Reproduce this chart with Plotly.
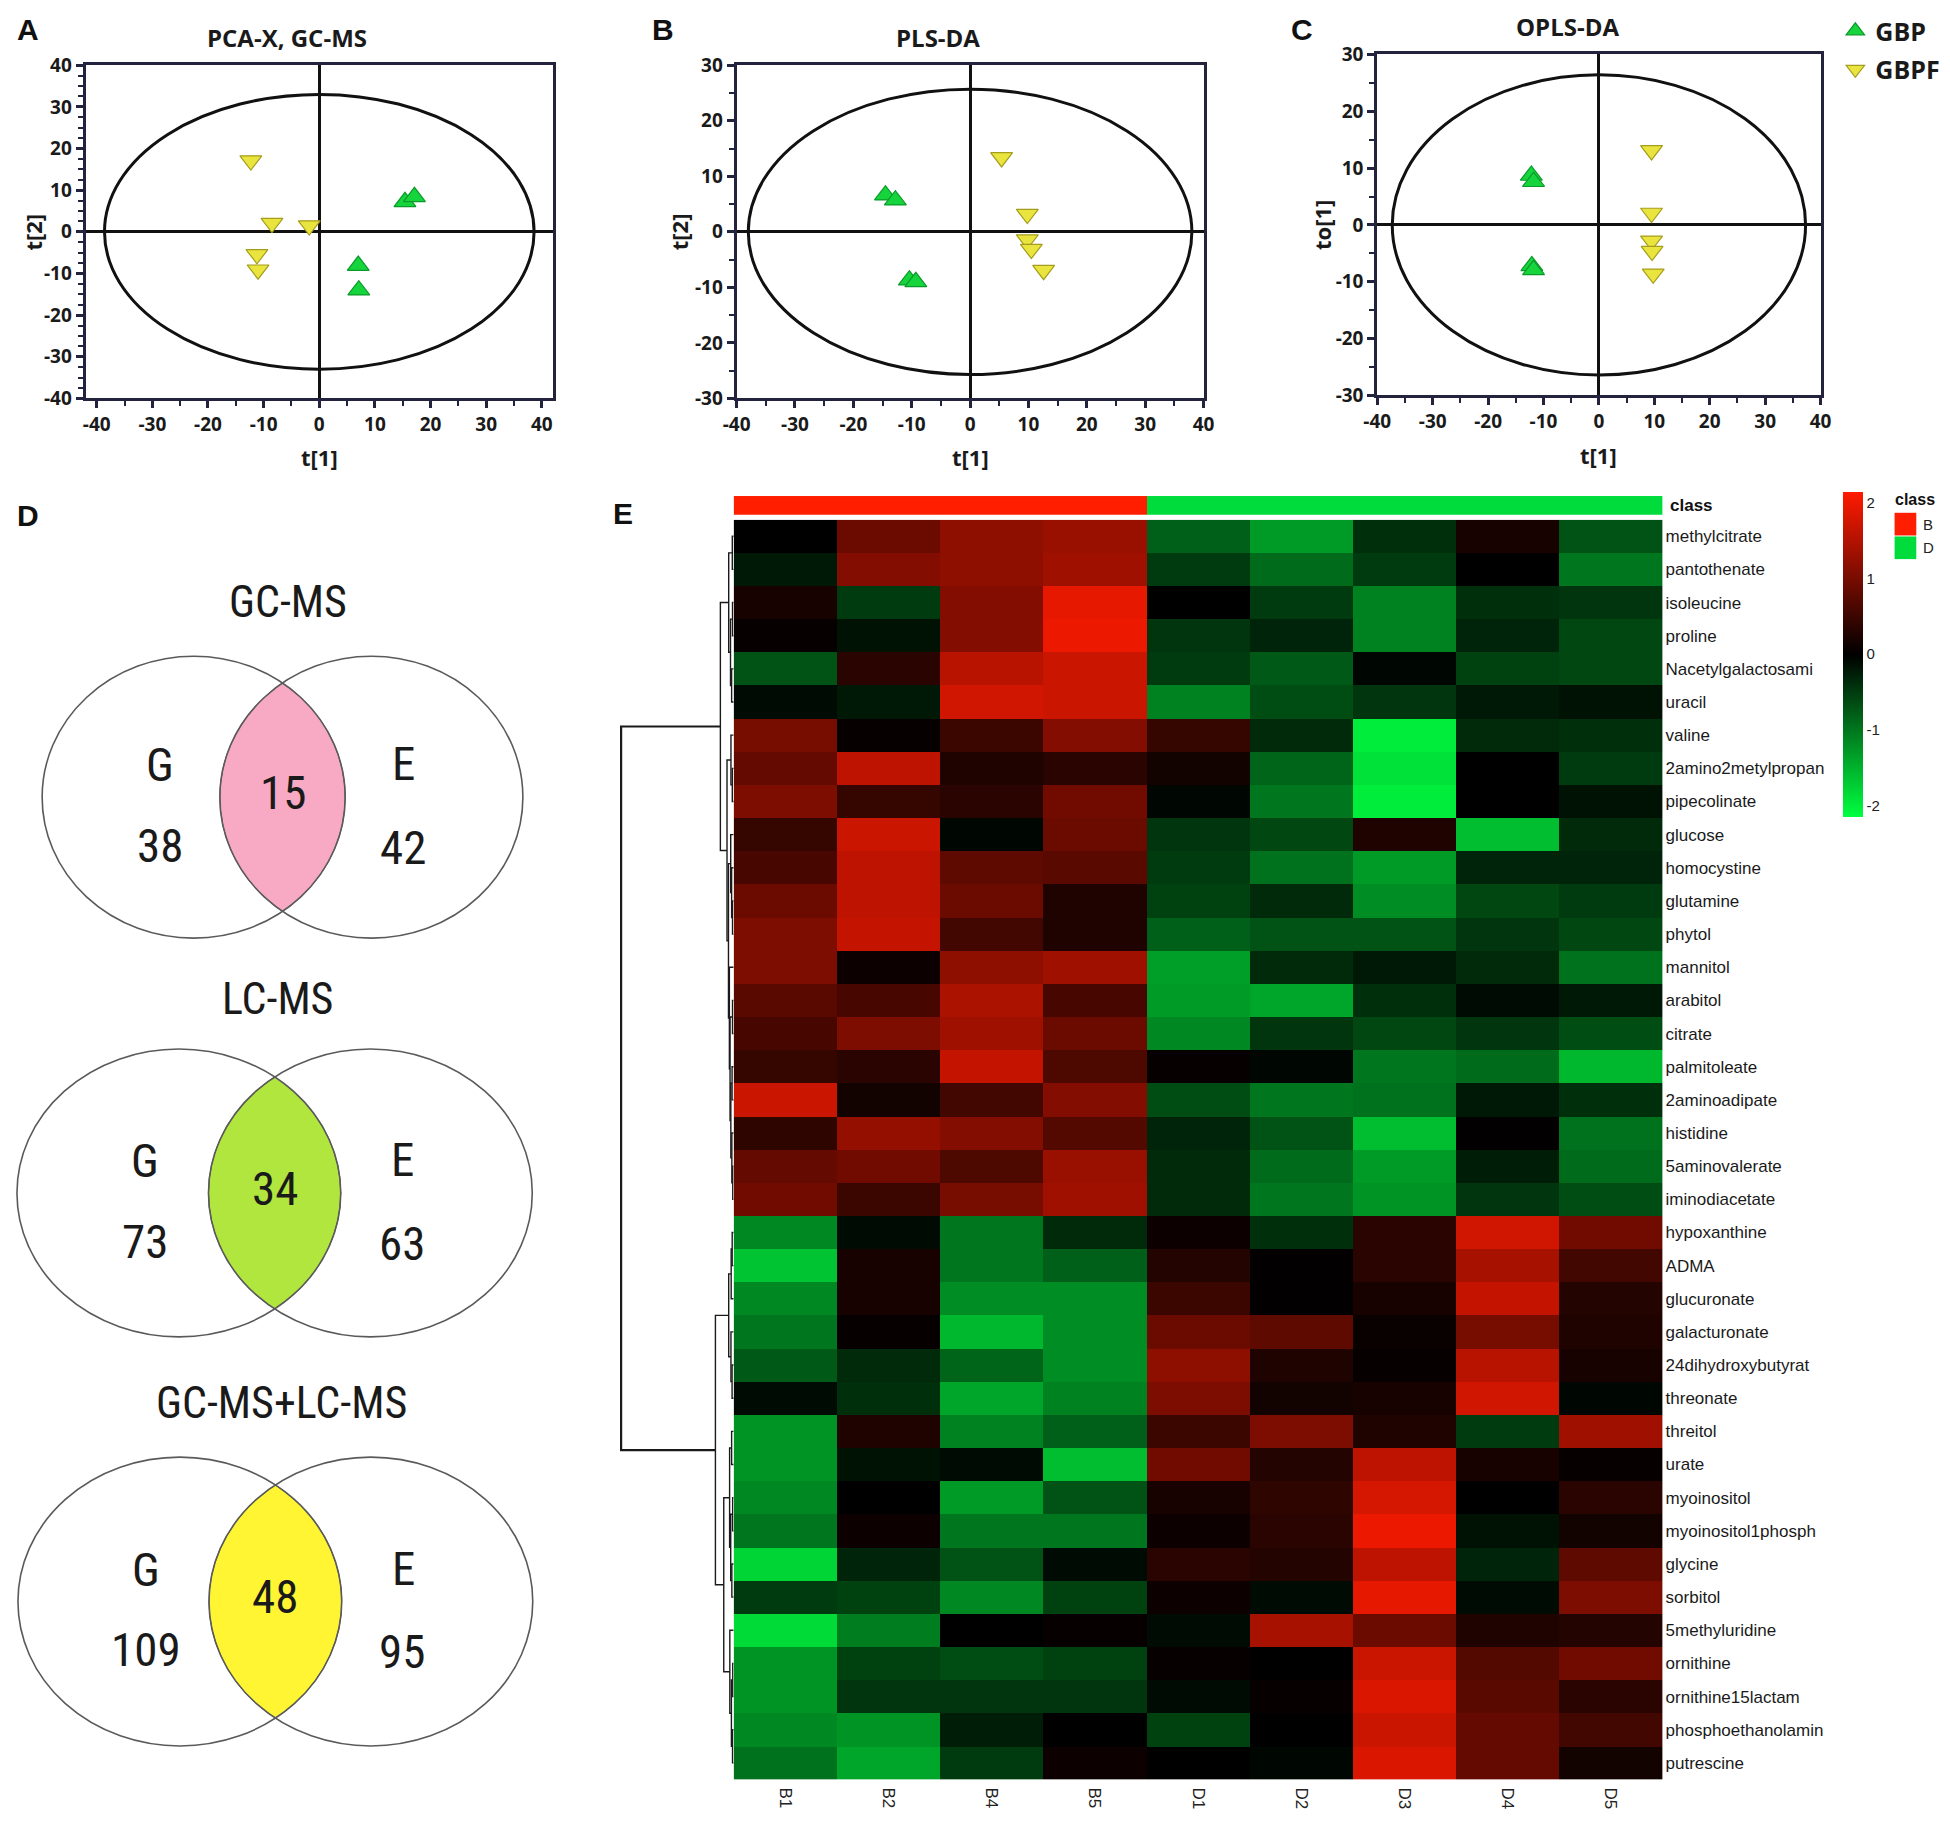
import numpy as np
import plotly.graph_objects as go

W, H = 1950, 1826

# ---------------- data: score plots (A, B, C) ----------------
group_names = ["GBP", "GBPF"]

pca_gbp_t1 = [15.4, 17.1, 7.0, 7.1]
pca_gbp_t2 = [7.2, 8.4, -8.1, -14.0]
pca_gbpf_t1 = [-12.3, -8.5, -1.8, -11.2, -11.0]
pca_gbpf_t2 = [17.1, 2.1, 1.5, -5.4, -9.1]
pca_ellipse = [38.6, 33.0]

pls_gbp_t1 = [-14.5, -12.8, -10.4, -9.3]
pls_gbp_t2 = [6.6, 5.7, -8.7, -9.0]
pls_gbpf_t1 = [5.4, 9.8, 9.8, 10.5, 12.6]
pls_gbpf_t2 = [13.4, 3.2, -1.4, -3.1, -6.9]
pls_ellipse = [38.0, 25.7]

opls_gbp_t1 = [-12.2, -11.8, -12.1, -11.8]
opls_gbp_to1 = [8.7, 7.6, -7.2, -7.9]
opls_gbpf_t1 = [9.5, 9.5, 9.5, 9.6, 9.8]
opls_gbpf_to1 = [13.1, 2.1, -2.8, -4.6, -8.6]
opls_ellipse = [37.3, 26.4]

# ---------------- data: Venn (D) ----------------
venn_titles = ["GC-MS", "LC-MS", "GC-MS+LC-MS"]
venn_set_names = ["G", "E"]
venn_only_g = [38, 73, 109]
venn_shared = [15, 34, 48]
venn_only_e = [42, 63, 95]
venn_colors = ["#F8A9C3", "#B0E63E", "#FFF533"]

# ---------------- data: heatmap (E) ----------------
samples = ["B1", "B2", "B4", "B5", "D1", "D2", "D3", "D4", "D5"]
sample_class = ["B", "B", "B", "B", "D", "D", "D", "D", "D"]
metabolites = [
    "methylcitrate", "pantothenate", "isoleucine", "proline", "Nacetylgalactosami",
    "uracil", "valine", "2amino2metylpropan", "pipecolinate", "glucose",
    "homocystine", "glutamine", "phytol", "mannitol", "arabitol", "citrate",
    "palmitoleate", "2aminoadipate", "histidine", "5aminovalerate", "iminodiacetate",
    "hypoxanthine", "ADMA", "glucuronate", "galacturonate", "24dihydroxybutyrat",
    "threonate", "threitol", "urate", "myoinositol", "myoinositol1phosph",
    "glycine", "sorbitol", "5methyluridine", "ornithine", "ornithine15lactam",
    "phosphoethanolamin", "putrescine",
]
heat_values = [
    [0.0, 0.9, 1.2, 1.3, -0.8, -1.3, -0.4, 0.2, -0.7],
    [-0.2, 1.1, 1.2, 1.35, -0.5, -0.9, -0.5, 0.0, -1.0],
    [0.2, -0.5, 1.1, 1.95, 0.0, -0.5, -1.1, -0.4, -0.45],
    [0.05, -0.15, 1.1, 2.0, -0.45, -0.3, -1.1, -0.3, -0.6],
    [-0.7, 0.35, 1.55, 1.7, -0.5, -0.75, -0.05, -0.55, -0.6],
    [-0.1, -0.2, 1.75, 1.7, -1.1, -0.65, -0.45, -0.2, -0.15],
    [1.0, 0.05, 0.5, 1.1, 0.45, -0.35, -2.0, -0.35, -0.4],
    [0.85, 1.6, 0.25, 0.35, 0.15, -0.85, -1.9, 0.0, -0.5],
    [1.05, 0.45, 0.35, 0.95, -0.05, -1.0, -2.0, 0.0, -0.15],
    [0.45, 1.7, -0.05, 0.9, -0.45, -0.6, 0.25, -1.6, -0.35],
    [0.6, 1.6, 0.8, 0.75, -0.5, -0.95, -1.3, -0.3, -0.3],
    [0.9, 1.6, 0.9, 0.25, -0.55, -0.35, -1.2, -0.6, -0.5],
    [1.05, 1.65, 0.55, 0.25, -0.8, -0.7, -0.7, -0.45, -0.6],
    [1.05, 0.1, 1.2, 1.35, -1.35, -0.35, -0.2, -0.35, -0.95],
    [0.75, 0.6, 1.45, 0.6, -1.3, -1.4, -0.4, -0.1, -0.2],
    [0.6, 1.05, 1.35, 0.9, -1.15, -0.45, -0.6, -0.45, -0.65],
    [0.45, 0.35, 1.65, 0.65, 0.05, -0.05, -1.0, -0.9, -1.55],
    [1.7, 0.15, 0.55, 1.1, -0.65, -1.0, -0.95, -0.2, -0.4],
    [0.4, 1.25, 1.1, 0.7, -0.3, -0.7, -1.6, 0.02, -0.95],
    [0.85, 0.95, 0.65, 1.3, -0.35, -0.9, -1.3, -0.25, -0.9],
    [0.95, 0.5, 1.0, 1.35, -0.35, -1.0, -1.25, -0.45, -0.65],
    [-1.15, -0.1, -1.0, -0.35, 0.1, -0.4, 0.35, 1.75, 0.95],
    [-1.65, 0.2, -1.0, -0.8, 0.3, 0.02, 0.35, 1.4, 0.55],
    [-1.15, 0.2, -1.2, -1.2, 0.5, 0.02, 0.2, 1.65, 0.3],
    [-1.0, 0.05, -1.55, -1.2, 0.9, 0.8, 0.08, 1.0, 0.25],
    [-0.75, -0.35, -0.85, -1.2, 1.2, 0.25, 0.05, 1.55, 0.2],
    [-0.1, -0.4, -1.4, -1.1, 1.05, 0.15, 0.2, 1.75, -0.05],
    [-1.25, 0.25, -1.1, -0.8, 0.5, 1.05, 0.25, -0.5, 1.35],
    [-1.25, -0.15, -0.1, -1.6, 0.95, 0.3, 1.6, 0.2, 0.05],
    [-1.15, 0.0, -1.3, -0.7, 0.2, 0.4, 1.8, 0.0, 0.35],
    [-1.0, 0.1, -1.0, -1.0, 0.1, 0.35, 2.0, -0.15, 0.15],
    [-1.8, -0.3, -0.7, -0.1, 0.35, 0.3, 1.6, -0.3, 0.8],
    [-0.5, -0.55, -1.15, -0.55, 0.1, -0.1, 1.95, -0.1, 1.05],
    [-1.85, -1.05, 0.0, 0.05, -0.1, 1.4, 0.9, 0.25, 0.3],
    [-1.25, -0.55, -0.65, -0.55, 0.05, 0.0, 1.7, 0.7, 0.95],
    [-1.25, -0.45, -0.45, -0.45, -0.1, 0.05, 1.85, 0.75, 0.35],
    [-1.15, -1.25, -0.25, 0.0, -0.55, 0.0, 1.7, 0.85, 0.55],
    [-0.95, -1.4, -0.5, 0.1, 0.0, -0.05, 1.85, 0.85, 0.15],
]
# row dendrogram: merge k creates node 38+k from (left, right) at the given height
dend_left = [0, 2, 4, 39, 38, 7, 6, 11, 10, 9, 19, 18, 16, 50, 14, 52, 13, 47, 44, 42,
             21, 58, 25, 24, 59, 27, 29, 31, 64, 63, 34, 36, 68, 33, 67, 62, 57]
dend_right = [1, 3, 5, 40, 41, 8, 43, 12, 45, 46, 20, 48, 17, 49, 15, 51, 53, 54, 55, 56,
              22, 23, 26, 60, 61, 28, 30, 32, 65, 66, 35, 37, 69, 70, 71, 72, 73]
dend_height = [1.2, 1.0, 1.8, 2.8, 4.4, 1.2, 2.4, 1.0, 1.8, 2.6, 0.8, 1.6, 1.4, 2.5, 1.0,
               3.2, 3.8, 4.6, 5.9, 11.8, 1.3, 2.2, 1.4, 2.4, 4.4, 1.8, 0.9, 1.6, 2.6, 3.6,
               0.8, 1.0, 2.0, 3.4, 8.8, 16.2, 100.0]

# ---------------- styling ----------------
FONT = "Open Sans"
VENN_FONT = "Liberation Sans Narrow, Arial Narrow, Roboto Condensed, Open Sans"
AXC = "#23233d"
GREEN, GREEN_L = "#16D43C", "#0B9A2A"
YEL, YEL_L = "#EAE53E", "#A59D1E"
RED_CLS, GREEN_CLS = "#FF1E00", "#00DC3C"


def px(x):
    return x / W


def py(y):
    return 1 - y / H


fig = go.Figure()
annotations = []
shapes = []


def fmt(v):
    return str(int(v)) if float(v).is_integer() else str(v)


def score_axis(rng, dom, anchor, major, minor):
    major_vals = list(np.arange(np.ceil(rng[0] / major) * major, rng[1] + 1e-9, major))
    minor_vals = list(np.arange(np.ceil(rng[0] / minor) * minor, rng[1] + 1e-9, minor))
    return dict(
        domain=dom, range=rng, anchor=anchor, showline=True, mirror=True,
        linecolor=AXC, linewidth=3, ticks="outside", ticklen=7, tickwidth=3,
        tickcolor=AXC, tickmode="array", tickvals=major_vals,
        ticktext=[fmt(v) for v in major_vals],
        minor=dict(ticks="outside", ticklen=5, tickwidth=2, tickcolor=AXC,
                   tickmode="array", tickvals=minor_vals),
        showgrid=False, zeroline=True, zerolinecolor="#111111", zerolinewidth=2.5,
        tickfont=dict(family=FONT, size=19, color="#1a1a1a", weight="bold"),
        fixedrange=True,
    )


panels = [
    dict(letter="A", lx=1, title="PCA-X, GC-MS", tx=277, ty=25, xd=(72.5, 546), yd=(53, 391),
         xr=[-42, 42], yr=[-40, 40], ymin=2.5, ytitle="t[2]", ytx=19, xty=450,
         gbp=(pca_gbp_t1, pca_gbp_t2), gbpf=(pca_gbpf_t1, pca_gbpf_t2), ell=pca_ellipse),
    dict(letter="B", lx=644, title="PLS-DA", tx=936, ty=25, xd=(732, 1205), yd=(53, 391),
         xr=[-40, 40], yr=[-30, 30], ymin=5, ytitle="t[2]", ytx=673, xty=450,
         gbp=(pls_gbp_t1, pls_gbp_t2), gbpf=(pls_gbpf_t1, pls_gbpf_t2), ell=pls_ellipse),
    dict(letter="C", lx=1292, title="OPLS-DA", tx=1574, ty=14, xd=(1381, 1830), yd=(42, 388),
         xr=[-40, 40], yr=[-30, 30], ymin=5, ytitle="to[1]", ytx=1325, xty=448,
         gbp=(opls_gbp_t1, opls_gbp_to1), gbpf=(opls_gbpf_t1, opls_gbpf_to1), ell=opls_ellipse),
]

layout_axes = {}
for i, p in enumerate(panels):
    n = i + 1
    sx = "" if n == 1 else str(n)
    xdom = [px(p["xd"][0]), px(p["xd"][1])]
    ydom = [py(p["yd"][1]), py(p["yd"][0])]
    layout_axes["xaxis" + sx] = score_axis(p["xr"], xdom, "y" + sx, 10, 5)
    layout_axes["yaxis" + sx] = score_axis(p["yr"], ydom, "x" + sx, 10, p["ymin"])
    fig.add_trace(go.Scatter(
        x=p["gbp"][0], y=p["gbp"][1], mode="markers", name=group_names[0],
        legendgroup="g1", showlegend=(n == 3), xaxis="x" + sx, yaxis="y" + sx,
        marker=dict(symbol="triangle-up", size=19, color=GREEN,
                    line=dict(color=GREEN_L, width=1.2))))
    fig.add_trace(go.Scatter(
        x=p["gbpf"][0], y=p["gbpf"][1], mode="markers", name=group_names[1],
        legendgroup="g2", showlegend=(n == 3), xaxis="x" + sx, yaxis="y" + sx,
        marker=dict(symbol="triangle-down", size=19, color=YEL,
                    line=dict(color=YEL_L, width=1.2))))
    a, b = p["ell"]
    shapes.append(dict(type="circle", xref="x" + sx, yref="y" + sx, x0=-a, x1=a, y0=-b, y1=b,
                       line=dict(color="#111111", width=3), layer="below"))
    annotations.append(dict(text=p["title"], x=px(p["tx"]), y=py(p["ty"]), xref="paper",
                            yref="paper", showarrow=False, xanchor="center", yanchor="middle",
                            font=dict(family=FONT, size=24, color="#1a1a1a", weight="bold")))
    annotations.append(dict(text=p["letter"], x=px(p["lx"]), y=py(17), xref="paper", yref="paper",
                            showarrow=False, xanchor="left", yanchor="middle",
                            font=dict(family="Liberation Sans", size=30, color="#111", weight="bold")))
    xc = (p["xd"][0] + p["xd"][1]) / 2 + (p["xd"][1] - p["xd"][0]) * (0 - sum(p["xr"]) / 2) / (p["xr"][1] - p["xr"][0])
    annotations.append(dict(text="t[1]", x=px(xc), y=py(p["xty"]), xref="paper", yref="paper",
                            showarrow=False, xanchor="center", yanchor="middle",
                            font=dict(family=FONT, size=22, color="#1a1a1a", weight="bold")))
    yc = (p["yd"][0] + p["yd"][1]) / 2
    annotations.append(dict(text=p["ytitle"], x=px(p["ytx"]), y=py(yc), xref="paper", yref="paper",
                            showarrow=False, xanchor="center", yanchor="middle", textangle=-90,
                            font=dict(family=FONT, size=22, color="#1a1a1a", weight="bold")))

# ---------------- Venn diagrams (D) ----------------
venn_geom = [  # (left cx, right cx, cy, rx, ry, title x, title y) in pixels
    (182, 362, 795.5, 153.5, 143, 278, 598),
    (167, 361, 1197, 164, 146, 267, 1000),
    (168, 361.5, 1611.5, 164, 146.5, 271, 1410),
]
layout_axes["xaxis4"] = dict(domain=[0, px(560)], range=[0, 560], visible=False, anchor="y4",
                             fixedrange=True)
layout_axes["yaxis4"] = dict(domain=[0, py(480)], range=[H, 480], visible=False, anchor="x4",
                             fixedrange=True)

for k in range(3):
    cxl, cxr, cy, rx, ry, ttx, tty = venn_geom[k]
    t1 = np.linspace(-np.pi / 2, np.pi / 2, 600)
    lx, ly = cxl + rx * np.cos(t1), cy + ry * np.sin(t1)
    keep1 = ((lx - cxr) / rx) ** 2 + ((ly - cy) / ry) ** 2 <= 1
    t2 = np.linspace(np.pi / 2, 3 * np.pi / 2, 600)
    rxs, rys = cxr + rx * np.cos(t2), cy + ry * np.sin(t2)
    keep2 = ((rxs - cxl) / rx) ** 2 + ((rys - cy) / ry) ** 2 <= 1
    lens_x = np.concatenate([lx[keep1], rxs[keep2]])
    lens_y = np.concatenate([ly[keep1], rys[keep2]])
    fig.add_trace(go.Scatter(x=lens_x, y=lens_y, mode="lines", fill="toself",
                             fillcolor=venn_colors[k], line=dict(color="#555555", width=1),
                             xaxis="x4", yaxis="y4", showlegend=False, hoverinfo="skip"))
    for cx in (cxl, cxr):
        shapes.append(dict(type="circle", xref="x4", yref="y4", x0=cx - rx, x1=cx + rx,
                           y0=cy - ry, y1=cy + ry, line=dict(color="#5a5a5a", width=1.6),
                           layer="above"))
    items = [
        (venn_titles[k], ttx, tty, 44),
        (venn_set_names[0], cxl - 34, cy - 33, 47),
        (str(venn_only_g[k]), cxl - 34, cy + 49, 47),
        (str(venn_shared[k]), (cxl + cxr) / 2, cy - 5, 47),
        (venn_set_names[1], cxr + 33, cy - 34, 47),
        (str(venn_only_e[k]), cxr + 32, cy + 51, 47),
    ]
    for txt, tx, ty, fs in items:
        annotations.append(dict(text=txt, x=tx, y=ty, xref="x4", yref="y4", showarrow=False,
                                xanchor="center", yanchor="middle",
                                font=dict(family=VENN_FONT, size=fs, color="#1a1a1a")))
annotations.append(dict(text="D", x=px(1), y=py(510), xref="paper", yref="paper", showarrow=False,
                        xanchor="left", yanchor="middle",
                        font=dict(family="Liberation Sans", size=30, color="#111", weight="bold")))

# ---------------- Heatmap (E) ----------------
nrow, ncol = len(metabolites), len(samples)
hm_x0, hm_x1, hm_y0, hm_y1 = 729, 1670, 514, 1792
layout_axes["xaxis5"] = dict(
    domain=[px(hm_x0), px(hm_x1)], range=[-0.5, ncol - 0.5], anchor="y5",
    tickmode="array", tickvals=list(range(ncol)), ticktext=samples, tickangle=90,
    ticks="", showline=False, showgrid=False, zeroline=False, ticklabelstandoff=7,
    tickfont=dict(family="Liberation Sans", size=17, color="#222"), fixedrange=True)
layout_axes["yaxis5"] = dict(
    domain=[py(hm_y1), py(hm_y0)], range=[nrow - 0.5, -0.5], anchor="x5", side="right",
    tickmode="array", tickvals=list(range(nrow)), ticktext=metabolites, ticks="",
    showline=False, showgrid=False, zeroline=False, ticklabelstandoff=2,
    tickfont=dict(family="Liberation Sans", size=17, color="#1a1a1a"), fixedrange=True)

fig.add_trace(go.Heatmap(
    z=heat_values, x=list(range(ncol)), y=list(range(nrow)), xaxis="x5", yaxis="y5",
    colorscale=[[0, "rgb(0,255,64)"], [0.5, "rgb(0,0,0)"], [1, "rgb(255,26,0)"]],
    zmin=-2.15, zmax=2.15, hoverinfo="skip",
    colorbar=dict(x=px(1853), xanchor="left", y=py(650.5), yanchor="middle",
                  len=325, lenmode="pixels", thickness=20, thicknessmode="pixels",
                  tickmode="array", tickvals=[-2, -1, 0, 1, 2],
                  ticktext=["-2", "-1", "0", "1", "2"], ticks="", outlinewidth=0,
                  xpad=0, ypad=0, tickfont=dict(family="Liberation Sans", size=15, color="#222"))))

# class bar
layout_axes["xaxis6"] = dict(domain=[px(hm_x0), px(hm_x1)], range=[-0.5, ncol - 0.5],
                             anchor="y6", visible=False, fixedrange=True)
layout_axes["yaxis6"] = dict(domain=[py(509), py(490)], range=[-0.5, 0.5], anchor="x6",
                             visible=False, fixedrange=True)
fig.add_trace(go.Heatmap(
    z=[[0 if c == "B" else 1 for c in sample_class]], x=list(range(ncol)), y=[0],
    xaxis="x6", yaxis="y6", showscale=False, zmin=0, zmax=1, hoverinfo="skip",
    colorscale=[[0, RED_CLS], [0.5, RED_CLS], [0.5, GREEN_CLS], [1, GREEN_CLS]]))

annotations.append(dict(text="class", x=px(1675), y=py(500), xref="paper", yref="paper",
                        showarrow=False, xanchor="left", yanchor="middle",
                        font=dict(family="Liberation Sans", size=17, color="#111", weight="bold")))
annotations.append(dict(text="E", x=px(605), y=py(508), xref="paper", yref="paper",
                        showarrow=False, xanchor="left", yanchor="middle",
                        font=dict(family="Liberation Sans", size=30, color="#111", weight="bold")))

# class legend
annotations.append(dict(text="class", x=px(1903), y=py(494), xref="paper", yref="paper",
                        showarrow=False, xanchor="left", yanchor="middle",
                        font=dict(family="Liberation Sans", size=16, color="#111", weight="bold")))
for j, (lab, col) in enumerate(zip(["B", "D"], [RED_CLS, GREEN_CLS])):
    y0 = 507 + j * 24
    shapes.append(dict(type="rect", xref="paper", yref="paper", x0=px(1905), x1=px(1927),
                       y0=py(y0 + 23), y1=py(y0), fillcolor=col, line=dict(width=0)))
    annotations.append(dict(text=lab, x=px(1932), y=py(y0 + 11.5), xref="paper", yref="paper",
                            showarrow=False, xanchor="left", yanchor="middle",
                            font=dict(family="Liberation Sans", size=15, color="#222")))

# dendrogram
dx0 = 605
root_px = 615
xr_max = dend_height[-1] * (hm_x0 - dx0) / (hm_x0 - root_px)
layout_axes["xaxis7"] = dict(domain=[px(dx0), px(hm_x0)], range=[xr_max, 0], anchor="y7",
                             visible=False, fixedrange=True)
layout_axes["yaxis7"] = dict(domain=[py(hm_y1), py(hm_y0)], range=[nrow - 0.5, -0.5],
                             anchor="x7", visible=False, fixedrange=True)
node_y = {i: float(i) for i in range(nrow)}
node_h = {i: 0.0 for i in range(nrow)}
seg_x, seg_y, top_x, top_y = [], [], [], []
for k, (a, b, h) in enumerate(zip(dend_left, dend_right, dend_height)):
    nid = nrow + k
    xs = [node_h[a], h, h, node_h[b], None]
    ys = [node_y[a], node_y[a], node_y[b], node_y[b], None]
    if k == len(dend_left) - 1:
        top_x += xs
        top_y += ys
    else:
        seg_x += xs
        seg_y += ys
    node_y[nid] = (node_y[a] + node_y[b]) / 2
    node_h[nid] = h
fig.add_trace(go.Scatter(x=seg_x, y=seg_y, mode="lines", line=dict(color="#1a1a1a", width=1.4),
                         xaxis="x7", yaxis="y7", showlegend=False, hoverinfo="skip"))
fig.add_trace(go.Scatter(x=top_x, y=top_y, mode="lines", line=dict(color="#1a1a1a", width=2.2),
                         xaxis="x7", yaxis="y7", showlegend=False, hoverinfo="skip"))

fig.update_layout(
    width=W, height=H, margin=dict(l=0, r=0, t=0, b=0),
    paper_bgcolor="white", plot_bgcolor="white",
    showlegend=True,
    legend=dict(x=px(1845), y=py(-5), xanchor="left", yanchor="top", bgcolor="rgba(0,0,0,0)",
                traceorder="grouped", tracegroupgap=3, itemwidth=30,
                font=dict(family=FONT, size=25, color="#1a1a1a", weight="bold")),
    annotations=annotations, shapes=shapes, **layout_axes,
)

fig.write_html(
    "out.html",
    config={"displayModeBar": False},
    post_script="document.body.style.margin='0';document.body.style.padding='0';"
                "document.documentElement.style.overflow='hidden';"
                "document.body.style.overflow='hidden';",
)
